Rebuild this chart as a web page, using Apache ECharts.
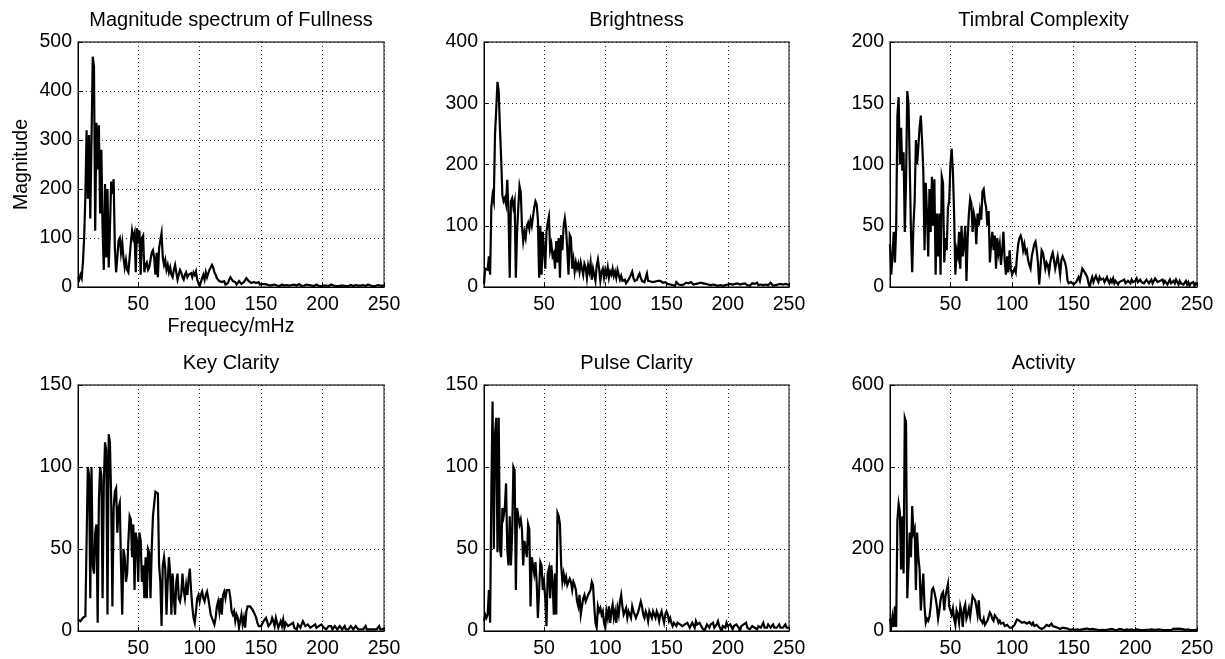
<!DOCTYPE html>
<html><head><meta charset="utf-8">
<script src="https://cdn.jsdelivr.net/npm/echarts@6/dist/echarts.min.js"></script>
<style>html,body{margin:0;padding:0;background:#fff}#c{width:1225px;height:659px}</style>
</head><body><div id="c"></div>
<script>
// ---------- data ----------
const panelTitles = ['Magnitude spectrum of Fullness', 'Brightness', 'Timbral Complexity', 'Key Clarity', 'Pulse Clarity', 'Activity'];
const yMaxima = [500, 400, 200, 150, 150, 600];
const yIntervals = [100, 100, 50, 50, 50, 200];
const xTickLabels = [50, 100, 150, 200, 250];
const yAxisTitle = 'Magnitude';
const xAxisTitle = 'Frequecy/mHz';

const fullness = [
20,15,25,18,50,100,185,320,180,310,
140,300,470,450,115,335,240,330,150,280,
120,35,210,60,200,40,120,215,190,220,
80,30,60,95,100,70,90,60,40,55,
35,30,60,90,115,100,110,30,120,100,
115,25,100,105,30,45,50,35,40,55,
70,75,60,25,70,20,80,95,110,60,
45,55,35,45,30,40,25,20,35,45,
30,15,25,35,30,20,15,25,30,20,
25,22,28,20,30,25,32,15,8,2,
10,18,25,15,30,20,28,35,38,45,
40,30,25,18,20,12,15,10,8,12,
5,1,8,15,20,18,12,8,10,5,
8,12,10,6,8,10,14,18,16,12,
10,8,12,10,6,8,7,10,5,8,
6,4,6,3,5,4,3,2,4,3,
5,2,3,4,2,3,5,4,3,2,
4,6,3,2,4,3,5,2,3,4,
6,3,2,4,3,2,5,3,4,2,
3,4,2,3,5,4,2,3,2,4,
3,2,3,4,2,3,5,2,3,4,
2,3,2,4,3,2,3,4,2,3,
2,3,4,5,2,3,4,2,3,2,
3,2,4,3,2,3,5,2,3,4,
2,3,2,3,4,2,3,2,3,2];

const brightness = [
5,30,32,28,50,20,130,150,140,250,
290,335,320,260,210,150,140,145,135,175,
120,15,140,145,130,140,15,90,130,165,
155,100,75,90,80,100,105,95,110,100,
115,130,140,135,110,15,100,20,90,60,
30,90,105,115,60,70,50,55,30,75,
40,80,15,85,60,100,112,95,60,20,
85,80,30,45,25,40,30,38,25,40,
30,20,38,32,15,35,25,40,12,30,
20,10,35,45,30,10,25,30,15,28,
20,32,15,25,20,30,18,25,15,28,
20,12,18,10,8,12,6,8,12,10,
20,25,15,10,8,12,18,22,15,10,
12,8,15,22,10,12,9,11,8,10,
9,11,10,8,10,9,7,10,8,6,
5,6,4,5,3,1,2,8,6,4,
5,3,6,4,5,7,4,6,5,8,
6,4,7,5,8,6,9,7,5,6,
8,5,6,4,7,3,5,4,6,3,
4,2,5,3,4,2,5,3,6,4,
3,5,2,4,3,5,4,6,3,4,
2,5,3,6,4,3,5,2,4,6,
3,5,4,7,3,5,4,6,3,5,
4,6,3,5,7,4,2,5,3,6,
4,3,5,7,4,2,5,3,4,3];

const timbralComplexity = [
35,10,25,45,20,48,140,155,100,130,
95,110,45,85,160,150,100,45,12,50,
70,120,100,115,130,140,120,95,30,85,
60,25,80,45,90,50,88,10,60,25,
60,10,90,85,20,40,30,65,70,100,
113,95,60,10,30,25,45,15,50,25,
35,50,5,40,60,72,68,45,60,55,
35,60,50,62,55,78,80,70,65,50,
62,20,35,45,30,42,15,40,28,35,
18,30,45,22,10,25,12,30,15,10,
10,15,12,25,35,40,42,38,30,35,
28,30,22,18,15,25,30,35,37,30,
20,2,15,30,28,22,15,20,18,12,
20,25,28,22,15,20,25,18,10,22,
25,24,20,15,5,3,2,4,3,2,
3,4,5,8,5,10,15,14,12,13,
8,3,0,5,8,4,7,9,6,4,
8,6,5,7,4,6,8,5,3,6,
4,7,3,5,6,2,4,3,5,4,
6,3,2,5,4,3,6,4,3,5,
7,4,3,6,4,5,3,4,6,5,
3,4,6,3,5,7,8,4,3,5,
4,6,3,5,4,2,4,6,3,4,
5,3,6,4,2,5,3,4,2,3,
5,2,4,1,3,2,4,1,3,2];

const keyClarity = [
7,8,6,7,8,7,9,55,100,95,
20,100,40,35,60,65,5,80,100,95,
20,90,115,110,10,120,115,80,15,75,
85,87,60,75,78,40,10,50,45,30,
35,55,70,68,45,65,25,60,55,30,
60,55,30,40,20,45,20,50,48,20,
50,70,70,85,85,84,40,30,3,40,
45,38,10,30,45,35,10,35,20,10,
30,35,20,18,22,35,25,20,28,22,
32,38,25,15,8,5,12,20,22,18,
22,24,20,18,22,24,20,15,10,8,
6,4,8,15,18,12,20,10,22,24,
20,25,24,25,20,12,10,12,6,10,
8,2,6,10,4,8,2,12,15,14,
15,14,13,12,10,8,5,3,2,3,
4,6,5,8,7,3,2,5,8,6,
3,8,5,2,4,6,3,7,2,5,
4,3,2,4,3,5,2,3,1,4,
3,2,4,6,5,3,2,4,3,2,
1,3,2,4,2,1,3,2,4,3,
2,3,1,2,3,2,3,1,2,3,
2,1,2,3,2,1,2,3,1,2,
1,2,3,2,1,2,3,2,1,2,
1,2,1,2,3,1,2,1,2,1,
2,1,2,1,2,3,1,2,1,2];

const pulseClarity = [
6,10,8,10,25,5,85,140,50,120,
130,48,130,50,45,75,70,75,90,50,
40,70,40,60,100,98,25,75,70,65,
68,62,40,55,50,45,65,62,15,45,
40,35,42,30,8,25,42,40,25,30,
20,3,35,38,20,40,30,10,35,10,
72,70,65,40,30,35,30,33,28,30,
32,30,25,30,28,25,18,15,22,10,
15,20,22,18,20,22,21,25,30,28,
15,5,2,15,12,14,10,12,5,2,
12,8,15,5,12,16,8,12,5,14,
10,18,22,15,10,12,14,8,12,10,
8,15,12,10,8,10,12,15,18,15,
10,8,12,10,6,12,10,8,12,10,
8,12,10,6,10,12,8,5,10,12,
10,6,8,5,3,5,4,3,5,6,
4,5,3,2,4,3,5,4,2,3,
5,4,2,6,4,3,5,4,2,3,
0,2,4,3,2,4,3,5,2,3,
4,6,3,2,0,3,4,2,5,3,
2,4,3,1,3,2,4,3,2,0,
3,2,4,3,5,2,3,1,2,3,
4,2,3,1,3,4,2,3,5,2,
3,2,4,3,2,3,4,2,3,2,
3,4,2,3,2,3,4,2,3,2];

const activity = [
30,10,35,10,60,10,270,310,290,150,
280,140,520,510,80,160,240,180,305,240,
250,100,240,180,150,50,100,140,60,20,
30,25,35,60,100,105,95,80,60,30,
50,75,90,95,50,85,100,115,60,50,
40,55,30,15,50,40,20,60,45,10,
55,65,30,40,55,35,60,85,80,75,
60,40,75,30,25,20,30,15,20,25,
35,45,40,30,25,38,35,30,20,25,
18,15,20,12,10,15,12,8,5,8,
12,15,22,28,30,25,22,20,18,22,
20,18,20,22,18,15,20,12,10,15,
12,8,10,5,2,8,12,15,18,12,
10,18,12,8,10,6,8,7,5,6,
8,5,7,4,6,5,3,6,4,5,
3,5,4,6,3,5,4,3,5,4,
6,3,4,2,5,3,4,6,3,4,
2,4,3,5,2,4,3,2,4,3,
5,2,3,4,2,3,5,2,4,3,
2,3,4,2,3,2,4,3,2,3,
4,2,3,5,2,3,2,4,3,2,
3,2,4,2,3,2,3,2,4,2,
3,2,2,3,2,1,2,3,2,5,
6,4,5,3,6,4,5,3,4,2,
3,2,4,3,2,3,2,4,3,2];

const seriesValues = [fullness, brightness, timbralComplexity, keyClarity, pulseClarity, activity];
const frequencies = fullness.map((_, i) => i + 1); // 1 … 250 mHz

// ---------- layout ----------
const FONT = '"Liberation Sans", Arial, Helvetica, sans-serif';
const grids = [
  {left: 78,  top: 42,  width: 306, height: 245},
  {left: 484, top: 42,  width: 305, height: 245},
  {left: 890, top: 42,  width: 307, height: 245},
  {left: 78,  top: 385, width: 306, height: 247},
  {left: 484, top: 385, width: 305, height: 247},
  {left: 890, top: 385, width: 307, height: 247}
];
const titleTops = [10, 10, 10, 353, 353, 353];
const gridLine = {show: true, lineStyle: {color: '#222', width: 1, type: [1, 3]}};

const option = {
  animation: false,
  backgroundColor: '#fff',
  textStyle: {fontFamily: FONT, color: '#000'},
  title: panelTitles.map((t, i) => ({
    text: t,
    left: grids[i].left + grids[i].width / 2,
    top: titleTops[i],
    textAlign: 'center',
    padding: 0,
    textStyle: {fontFamily: FONT, fontSize: 20, fontWeight: 'normal', color: '#000'}
  })),
  grid: grids.map(g => Object.assign({show: true, borderColor: '#444', borderWidth: 1.3, backgroundColor: '#fff', containLabel: false}, g)),
  xAxis: grids.map((g, i) => ({
    type: 'value', gridIndex: i, min: 1, max: 250, splitNumber: 5,
    name: i === 0 ? xAxisTitle : '',
    nameLocation: 'middle', nameGap: 30,
    nameTextStyle: {fontFamily: FONT, fontSize: 19.5, color: '#000'},
    axisLine: {show: true, onZero: false, lineStyle: {color: '#000', width: 1}},
    axisTick: {show: true, inside: true, length: 4, lineStyle: {color: '#000'}},
    axisLabel: {
      show: true, margin: 8, fontFamily: FONT, fontSize: 19.5, color: '#000',
      showMinLabel: false,
      formatter: v => (xTickLabels.indexOf(v) >= 0 ? String(v) : '')
    },
    splitLine: gridLine
  })),
  yAxis: grids.map((g, i) => ({
    type: 'value', gridIndex: i, min: 0, max: yMaxima[i], interval: yIntervals[i],
    name: i === 0 ? yAxisTitle : '',
    nameLocation: 'middle', nameGap: 46, nameRotate: 90,
    nameTextStyle: {fontFamily: FONT, fontSize: 19.5, color: '#000'},
    axisLine: {show: true, lineStyle: {color: '#000', width: 1}},
    axisTick: {show: true, inside: true, length: 4, lineStyle: {color: '#000'}},
    axisLabel: {show: true, margin: 6, fontFamily: FONT, fontSize: 19.5, color: '#000'},
    splitLine: gridLine
  })),
  series: seriesValues.map((vals, i) => ({
    type: 'line', xAxisIndex: i, yAxisIndex: i,
    data: vals.map((v, k) => [frequencies[k], v]),
    showSymbol: false, symbol: 'none', smooth: false,
    lineStyle: {color: '#000', width: 2.2, join: 'miter'},
    z: 3
  }))
};

const chart = echarts.init(document.getElementById('c'), null, {renderer: 'canvas'});
chart.setOption(option);
</script>
</body></html>
